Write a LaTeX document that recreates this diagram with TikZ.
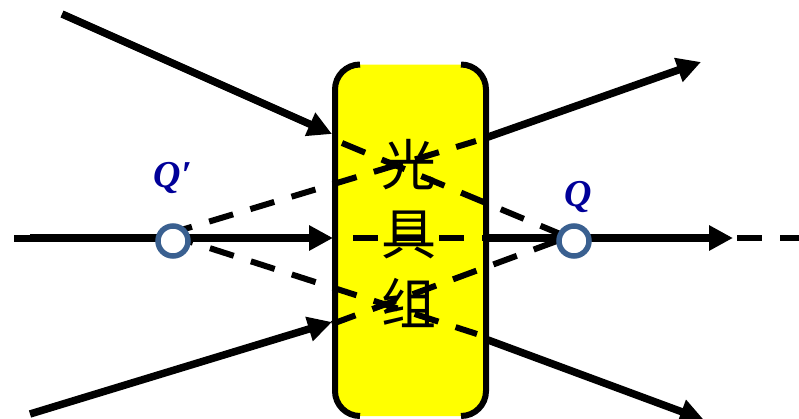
\documentclass[tikz,border=0pt]{standalone}
\usepackage{fontspec}
\setmainfont{Liberation Serif}
\newfontfamily\cjk{Noto Sans CJK SC}
\usepackage{xcolor}
\usetikzlibrary{arrows.meta}
\definecolor{ringblue}{HTML}{3A6090}
\definecolor{labelblue}{HTML}{000099}
\definecolor{lensyellow}{HTML}{FFFF00}

\begin{document}
\begin{tikzpicture}[
        x=1pt, y=-1pt,
        ray/.style={line width=7.5pt, -{Triangle[length=24pt, width=24pt]}},
        rayplain/.style={line width=7pt},
        virtual/.style={line width=6pt, dash pattern=on 25pt off 18pt},
        lensedge/.style={line width=6pt, line cap=butt},
        point/.style={circle, draw=ringblue, line width=5.5pt, fill=white, minimum size=30pt, inner sep=0pt},
        pointlabel/.style={labelblue, font=\fontsize{38}{38}\selectfont\bfseries\itshape},
        lenschar/.style={font=\fontsize{55}{55}\selectfont\cjk},
    ]
        \useasboundingbox (0,0) rectangle (799,418);

        % --- end points of the rays ---
        \coordinate (inTopA) at (62,14);
        \coordinate (inTopB) at (332,134);
        \coordinate (inMidA) at (14,238);
        \coordinate (inMidB) at (30,238);
        \coordinate (inMidC) at (333,238);
        \coordinate (inLowA) at (30,414);
        \coordinate (inLowB) at (332,322);
        \coordinate (outTopA) at (488,137);
        \coordinate (outTopB) at (701,62);
        \coordinate (outMidA) at (488,238);
        \coordinate (outMidB) at (733,238);
        \coordinate (outLowA) at (488,340);
        \coordinate (outLowB) at (704,420);
        \coordinate (tailA) at (737,238);
        \coordinate (tailB) at (799,238);

        % --- lens box ---
        \fill[lensyellow] (360,64.5) arc[start angle=-90, end angle=-180, radius=25] -- (335,391)
            arc[start angle=180, end angle=90, radius=25] -- (461,416)
            arc[start angle=90, end angle=0, radius=25] -- (486,89.5)
            arc[start angle=0, end angle=-90, radius=25] -- cycle;
        \draw[lensedge] (360,64.5) arc[start angle=-90, end angle=-180, radius=25] -- (335,391)
            arc[start angle=180, end angle=90, radius=25];
        \draw[lensedge] (461,64.5) arc[start angle=-90, end angle=0, radius=25] -- (486,391)
            arc[start angle=0, end angle=90, radius=25];
        \node[lenschar] (guang) at (409,165) {光};
        \node[lenschar] (ju) at (409,235) {具};
        \node[lenschar] (zu) at (409,303) {组};

        % --- solid rays ---
        \draw[ray] (inTopA) -- (inTopB);
        \draw[ray] (inMidB) -- (inMidC);
        \draw[ray] (inLowA) -- (inLowB);
        \draw[ray] (outTopA) -- (outTopB);
        \draw[ray] (outMidA) -- (outMidB);
        \draw[ray] (outLowA) -- (outLowB);
        \draw[rayplain] (inMidA) -- (inMidB);

        % --- dashed continuations ---
        \coordinate (upA) at (168,234);
        \coordinate (upB) at (476,141);
        \coordinate (lowA) at (169,235);
        \coordinate (lowB) at (477,334);
        \coordinate (topA) at (342,143);
        \coordinate (topB) at (565,236);
        \coordinate (botA) at (332,324);
        \coordinate (botB) at (565,238);
        \coordinate (midA) at (353,238);
        \coordinate (midB) at (488,238);
        \draw[virtual] (upA) -- (upB);
        \draw[virtual] (lowA) -- (lowB);
        \draw[virtual] (topA) -- (topB);
        \draw[virtual] (botA) -- (botB);
        \draw[virtual] (midA) -- (midB);
        \draw[virtual] (tailA) -- (tailB);

        % --- object and image points ---
        \node[point] (qimage) at (173,241) {};
        \node[point] (qobject) at (574,241) {};
        \node[pointlabel] (qimagelabel) at (173,178) {Q′};
        \node[pointlabel] (qobjectlabel) at (578,197) {Q};
    \end{tikzpicture}
\end{document}
